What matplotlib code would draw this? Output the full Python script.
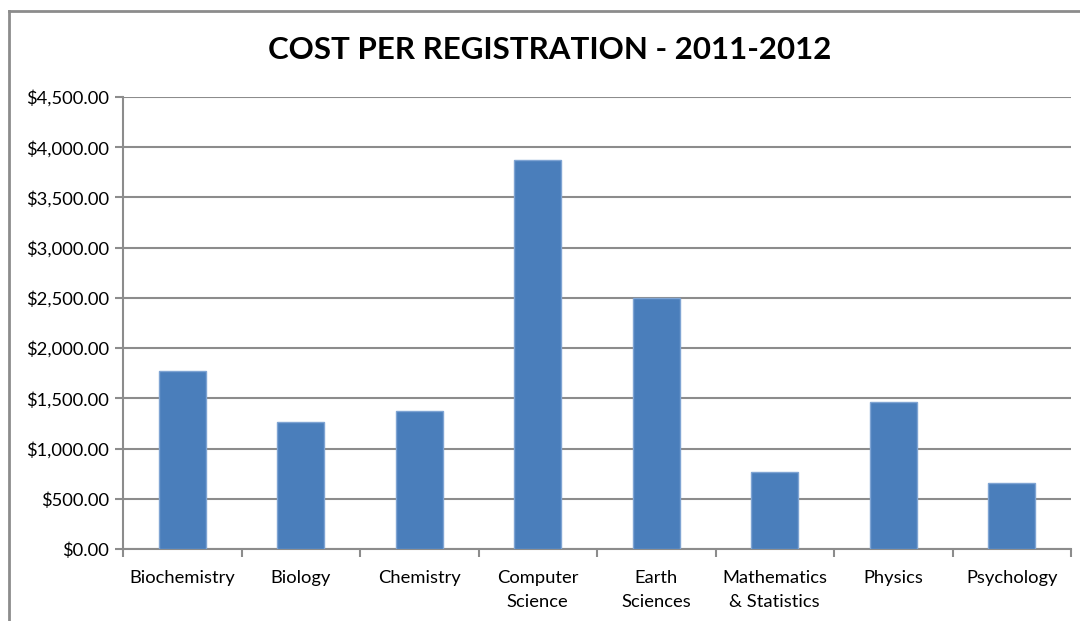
import matplotlib.pyplot as plt
import numpy as np
from matplotlib.lines import Line2D
from matplotlib.ticker import FuncFormatter

departments = ["Biochemistry", "Biology", "Chemistry", "Computer\nScience", "Earth\nSciences",
               "Mathematics\n& Statistics", "Physics", "Psychology"]
cost = [1776, 1265, 1375, 3868, 2503, 770, 1461, 654]
y_ticks = np.arange(0, 4501, 500)

plt.rcParams['font.family'] = ['Lato', 'DejaVu Sans']

fig = plt.figure(figsize=(10.8, 6.21), dpi=100)
fig.patch.set_facecolor("white")

# outer chart border (left and top edges only are in view)
bx, by = 9/1080, 1 - 11/621
fig.lines.append(Line2D([bx, bx], [0, by], transform=fig.transFigure, color="#8c8c8c", linewidth=2))
fig.lines.append(Line2D([bx, 1], [by, by], transform=fig.transFigure, color="#8c8c8c", linewidth=2))

ax = fig.add_axes([123/1080, (621-549)/621, (1071-123)/1080, (549-97)/621])
x = np.arange(len(departments))
ax.bar(x, cost, width=0.4, color="#4a7ebb", edgecolor="#7fa4d3", linewidth=1, zorder=3)

ax.set_xlim(-0.5, len(departments) - 0.5)
ax.set_ylim(0, 4500)
ax.set_yticks(y_ticks)
ax.yaxis.set_major_formatter(FuncFormatter(lambda v, p: "${:,.2f}".format(v)))
ax.set_xticks(x)
ax.set_xticklabels(departments, fontsize=13.2, linespacing=1.6)
ax.set_xticks(np.arange(-0.5, len(departments)), minor=True)
ax.tick_params(axis="x", which="major", length=0, pad=15)
ax.tick_params(axis="x", which="minor", length=6, width=1.5, color="#8c8c8c")
ax.tick_params(axis="y", length=6, width=1.5, color="#8c8c8c", labelsize=13.2, pad=4)

ax.grid(axis="y", color="#8c8c8c", linewidth=1.5, zorder=0)
ax.set_axisbelow(True)
for side in ["top", "right"]:
    ax.spines[side].set_visible(False)
for side in ["left", "bottom"]:
    ax.spines[side].set_color("#8c8c8c")
    ax.spines[side].set_linewidth(1.5)

fig.text(550/1080, 1 - 50/621, "COST PER REGISTRATION - 2011-2012", ha="center", va="center",
         fontsize=22.5, fontweight="bold")

plt.savefig("out.png", dpi=100)
